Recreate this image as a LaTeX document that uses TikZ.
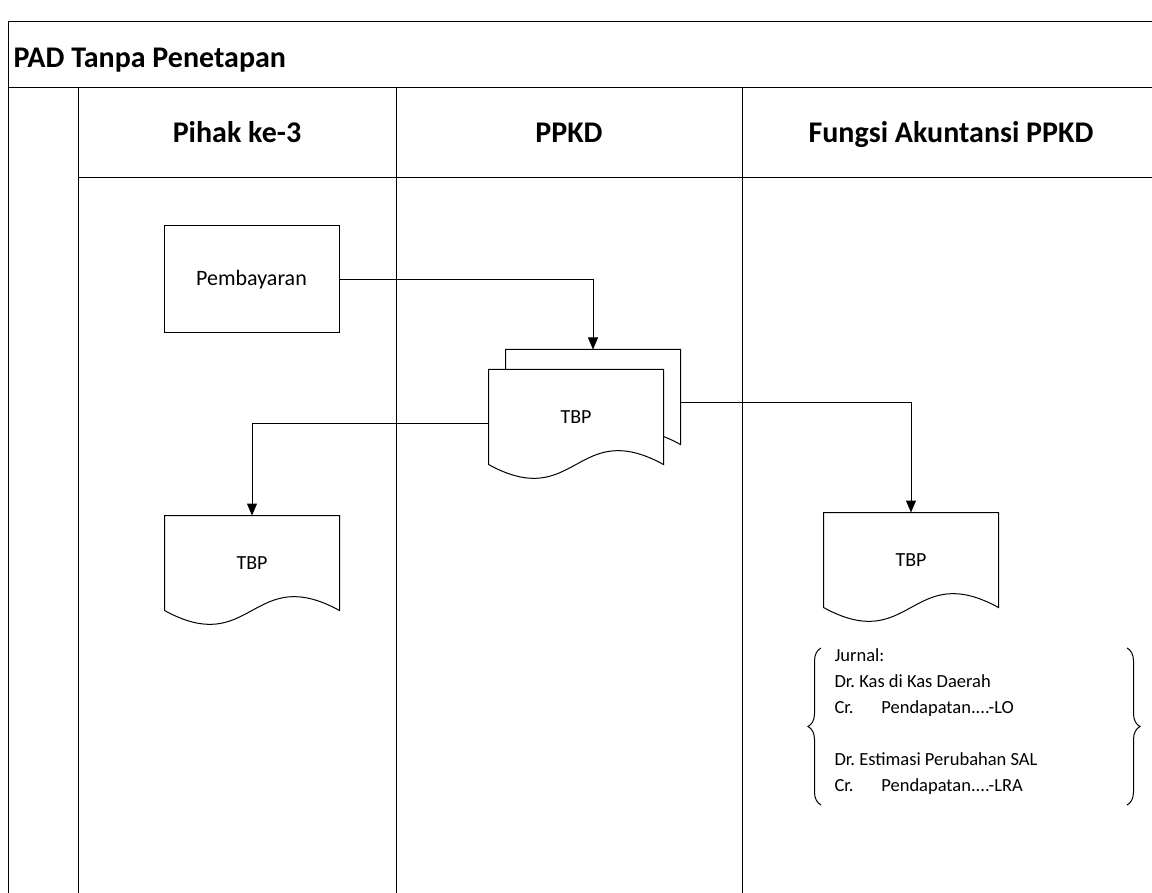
\documentclass[tikz,border=0pt]{standalone}
\usepackage{fontspec}
\setmainfont{Carlito}
\usetikzlibrary{arrows.meta,decorations.pathreplacing,calc}
\newcommand{\docoutline}[3][]{%
  \draw[#1] (#2.south west) -- (#2.north west) -- (#2.north east) -- (#2.south east)
    .. controls ($(#2.south)+(0,-2*#3)$) and ($(#2.south)+(0,2*#3)$) .. (#2.south west) -- cycle;
}
\begin{document}
\begin{tikzpicture}[x=1pt,y=-1pt,line width=1pt,
  conn/.style={-{Triangle[length=12pt,width=10pt]}},
  procbox/.style={draw,minimum width=175pt,minimum height=107pt,inner sep=0pt,font=\fontsize{22}{26}\selectfont},
  docbox/.style={minimum width=174pt,minimum height=94pt,inner sep=0pt,font=\fontsize{20}{24}\selectfont},
  lanehead/.style={anchor=base,inner sep=0pt,font=\fontsize{30}{36}\selectfont\bfseries},
  brace/.style={decorate,decoration={brace,amplitude=13pt}}]
\useasboundingbox (0,0) rectangle (1152,893);
% frame and lanes
\draw (8,893) -- (8,22) -- (1152,22);
\draw (8,88) -- (1152,88);
\draw (78,178) -- (1152,178);
\draw (78,88) -- (78,893);
\draw (396,88) -- (396,893);
\draw (742,88) -- (742,893);
% titles
\node[lanehead,anchor=base west] (title) at (13,68) {PAD Tanpa Penetapan};
\node[lanehead] (h1) at (237,143) {Pihak ke-3};
\node[lanehead] (h2) at (569,143) {PPKD};
\node[lanehead] (h3) at (951,143) {Fungsi Akuntansi PPKD};
% process
\node[procbox] (pay) at (251.5,279.5) {Pembayaran};
% stacked document
\node[docbox] (tbpB) at (593,397) {};
\docoutline[fill=white]{tbpB}{24}
\node[docbox] (tbpA) at (576,417) {};
\docoutline[fill=white]{tbpA}{24}
\node[docbox] at (tbpA) {TBP};
% other documents
\node[docbox] (tbpL) at (252,563) {TBP};
\docoutline{tbpL}{24}
\node[docbox] (tbpR) at (911,560) {TBP};
\docoutline{tbpR}{24}
% connectors
\draw[conn] (pay.east) -| (tbpB.north);
\draw[conn] ([yshift=-6pt]tbpA.west) -| (tbpL.north);
\draw[conn] ([yshift=-6pt]tbpB.east) -| (tbpR.north);
% journal
\node[anchor=north west,align=left,inner sep=0pt,font=\fontsize{18.5}{26}\selectfont] (jur) at (834,648)
  {Jurnal:\\
   Dr.\ Kas di Kas Daerah\\
   Cr.\hspace{1.5em}Pendapatan....-LO\\[26pt]
   Dr.\ Estimasi Perubahan SAL\\
   Cr.\hspace{1.5em}Pendapatan....-LRA};
\draw[brace] (821,805) -- (821,648);
\draw[brace] (1127,648) -- (1127,805);
\end{tikzpicture}
\end{document}
